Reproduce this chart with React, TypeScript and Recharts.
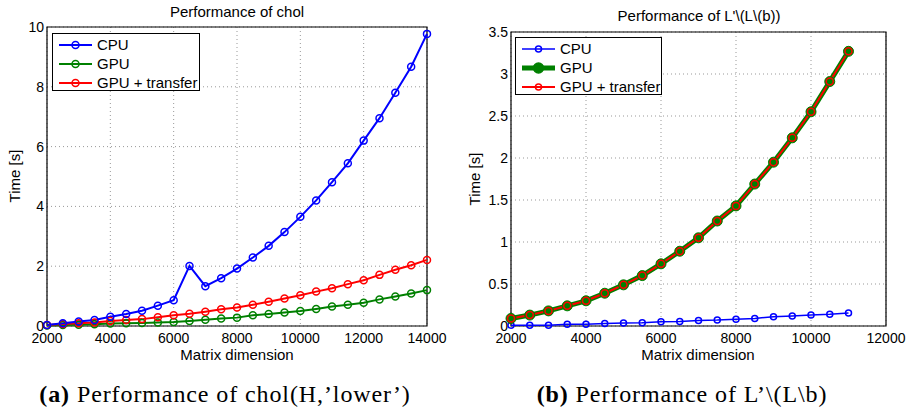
import { LineChart, Line, XAxis, YAxis, CartesianGrid, ReferenceArea } from 'recharts'

// chol(H,'lower') timings
const cholSizes = [2000, 2500, 3000, 3500, 4000, 4500, 5000, 5500, 6000, 6500, 7000, 7500, 8000, 8500, 9000, 9500, 10000, 10500, 11000, 11500, 12000, 12500, 13000, 13500, 14000]
const cholCpu = [0.03, 0.09, 0.15, 0.2, 0.31, 0.4, 0.51, 0.68, 0.86, 2.01, 1.33, 1.6, 1.92, 2.29, 2.68, 3.14, 3.65, 4.2, 4.81, 5.44, 6.2, 6.95, 7.8, 8.67, 9.77]
const cholGpu = [0.02, 0.03, 0.04, 0.06, 0.08, 0.09, 0.1, 0.12, 0.13, 0.17, 0.21, 0.25, 0.28, 0.36, 0.4, 0.45, 0.5, 0.57, 0.65, 0.71, 0.78, 0.89, 0.99, 1.09, 1.2]
const cholGpuTransfer = [0.03, 0.07, 0.09, 0.12, 0.17, 0.2, 0.23, 0.29, 0.36, 0.41, 0.48, 0.56, 0.62, 0.71, 0.81, 0.92, 1.03, 1.15, 1.26, 1.4, 1.53, 1.71, 1.88, 2.03, 2.21]

// L'\(L\b) timings
const solveSizes = [2000, 2500, 3000, 3500, 4000, 4500, 5000, 5500, 6000, 6500, 7000, 7500, 8000, 8500, 9000, 9500, 10000, 10500, 11000]
const solveCpu = [0.01, 0.01, 0.01, 0.02, 0.02, 0.03, 0.035, 0.04, 0.05, 0.055, 0.065, 0.07, 0.08, 0.09, 0.11, 0.12, 0.13, 0.14, 0.155]
const solveGpu = [0.09, 0.13, 0.18, 0.24, 0.3, 0.39, 0.49, 0.6, 0.74, 0.89, 1.05, 1.25, 1.43, 1.69, 1.95, 2.24, 2.55, 2.91, 3.27]
const solveGpuTransfer = [0.09, 0.13, 0.18, 0.24, 0.3, 0.39, 0.49, 0.6, 0.74, 0.89, 1.05, 1.25, 1.43, 1.69, 1.95, 2.24, 2.55, 2.91, 3.27]

const cholXTicks = [2000, 4000, 6000, 8000, 10000, 12000, 14000]
const cholYTicks = [0, 2, 4, 6, 8, 10]
const solveXTicks = [2000, 4000, 6000, 8000, 10000, 12000]
const solveYTicks = [0, 0.5, 1, 1.5, 2, 2.5, 3, 3.5]

const seriesNames = ['CPU', 'GPU', 'GPU + transfer']

const BLUE = '#0000ff'
const GREEN = '#008000'
const RED = '#ff0000'
const SANS = '"Liberation Sans", Arial, Helvetica, sans-serif'
const SERIF = '"Liberation Serif", "Times New Roman", serif'

const cholData = cholSizes.map((n, i) => ({ n, cpu: cholCpu[i], gpu: cholGpu[i], gput: cholGpuTransfer[i] }))
const solveData = solveSizes.map((n, i) => ({ n, cpu: solveCpu[i], gpu: solveGpu[i], gput: solveGpuTransfer[i] }))

const tickStyle = { fill: '#000', fontSize: 14, fontFamily: SANS }

type LegendItem = { label: string; color: string; width: number; r: number; filled: boolean }

function LegendBox({ left, top, width, items }: { left: number; top: number; width: number; items: LegendItem[] }) {
  return (
    <div
      style={{
        position: 'absolute',
        left,
        top,
        width,
        height: 58,
        background: '#fff',
        border: '1.5px solid #000',
        boxSizing: 'border-box',
        fontFamily: SANS,
        fontSize: 15,
      }}
    >
      {items.map((it, i) => (
        <div key={it.label} style={{ position: 'absolute', left: 5, top: 2 + i * 19, height: 18, display: 'flex', alignItems: 'center' }}>
          <svg width={36} height={14}>
            <line x1={1} y1={7} x2={34} y2={7} stroke={it.color} strokeWidth={it.width} />
            <circle cx={17.5} cy={7} r={it.r} stroke={it.color} strokeWidth={1.5} fill={it.filled ? it.color : 'none'} />
          </svg>
          <span style={{ marginLeft: 3, lineHeight: '18px' }}>{it.label}</span>
        </div>
      ))}
    </div>
  )
}

function Txt({ x, y, children, rotate, style }: any) {
  return (
    <div
      style={{
        position: 'absolute',
        left: x,
        top: y,
        transform: `translate(-50%, -50%)${rotate ? ' rotate(-90deg)' : ''}`,
        whiteSpace: 'nowrap',
        fontFamily: SANS,
        fontSize: 15,
        color: '#000',
        ...style,
      }}
    >
      {children}
    </div>
  )
}

const captionStyle = { fontFamily: SERIF, fontSize: 24, letterSpacing: 0.9, lineHeight: '28px' }

export default function App() {
  return (
    <div style={{ position: 'absolute', left: 0, top: 0, width: 909, height: 412, background: '#fff', overflow: 'hidden' }}>
      {/* (a) chol */}
      <div style={{ position: 'absolute', left: 0, top: 0 }}>
        <LineChart width={460} height={345} data={cholData} margin={{ top: 27, right: 33, bottom: 1, left: 17 }}>
          <CartesianGrid stroke="#999" strokeDasharray="1 3" />
          <XAxis
            dataKey="n"
            type="number"
            domain={[2000, 14000]}
            ticks={cholXTicks}
            tick={tickStyle}
            tickLine={false}
            tickSize={0}
            tickMargin={7}
            axisLine={false}
            height={18}
          />
          <YAxis
            type="number"
            domain={[0, 10]}
            ticks={cholYTicks}
            tick={tickStyle}
            tickLine={false}
            tickSize={0}
            tickMargin={3}
            axisLine={false}
            width={30}
          />
          <Line dataKey="gpu" stroke={GREEN} strokeWidth={2} dot={{ r: 3.5, stroke: GREEN, strokeWidth: 1.5, fill: 'none' }} isAnimationActive={false} />
          <Line dataKey="gput" stroke={RED} strokeWidth={2} dot={{ r: 3.5, stroke: RED, strokeWidth: 1.5, fill: 'none' }} isAnimationActive={false} />
          <Line dataKey="cpu" stroke={BLUE} strokeWidth={2} dot={{ r: 3.5, stroke: BLUE, strokeWidth: 1.5, fill: 'none' }} isAnimationActive={false} />
          <ReferenceArea x1={2000} x2={14000} y1={0} y2={10} fill="none" stroke="#000" strokeWidth={1.2} ifOverflow="visible" />
        </LineChart>
      </div>
      <LegendBox
        left={52}
        top={33}
        width={148}
        items={[
          { label: seriesNames[0], color: BLUE, width: 2, r: 3.5, filled: false },
          { label: seriesNames[1], color: GREEN, width: 2, r: 3.5, filled: false },
          { label: seriesNames[2], color: RED, width: 2, r: 3.5, filled: false },
        ]}
      />
      <Txt x={237} y={11}>Performance of chol</Txt>
      <Txt x={14} y={176} rotate>Time [s]</Txt>
      <Txt x={237} y={354}>Matrix dimension</Txt>

      {/* (b) L'\(L\b) */}
      <div style={{ position: 'absolute', left: 455, top: 0 }}>
        <LineChart width={454} height={345} data={solveData} margin={{ top: 32, right: 23, bottom: 1, left: 21 }}>
          <CartesianGrid stroke="#999" strokeDasharray="1 3" />
          <XAxis
            dataKey="n"
            type="number"
            domain={[2000, 12000]}
            ticks={solveXTicks}
            tick={tickStyle}
            tickLine={false}
            tickSize={0}
            tickMargin={7}
            axisLine={false}
            height={18}
          />
          <YAxis
            type="number"
            domain={[0, 3.5]}
            ticks={solveYTicks}
            tick={tickStyle}
            tickLine={false}
            tickSize={0}
            tickMargin={3}
            axisLine={false}
            width={35}
          />
          <Line dataKey="cpu" stroke={BLUE} strokeWidth={1.5} dot={{ r: 3, stroke: BLUE, strokeWidth: 1.5, fill: 'none' }} isAnimationActive={false} />
          <Line dataKey="gpu" stroke={GREEN} strokeWidth={5} dot={{ r: 5, stroke: GREEN, strokeWidth: 1, fill: GREEN }} isAnimationActive={false} />
          <Line dataKey="gput" stroke={RED} strokeWidth={2} dot={{ r: 3.5, stroke: RED, strokeWidth: 1.5, fill: 'none' }} isAnimationActive={false} />
          <ReferenceArea x1={2000} x2={12000} y1={0} y2={3.5} fill="none" stroke="#000" strokeWidth={1.2} ifOverflow="visible" />
        </LineChart>
      </div>
      <LegendBox
        left={515}
        top={37}
        width={147}
        items={[
          { label: seriesNames[0], color: BLUE, width: 1.5, r: 3, filled: false },
          { label: seriesNames[1], color: GREEN, width: 5, r: 5, filled: true },
          { label: seriesNames[2], color: RED, width: 2, r: 3, filled: false },
        ]}
      />
      <Txt x={699} y={15}>Performance of L'\(L\(b))</Txt>
      <Txt x={474} y={179} rotate>Time [s]</Txt>
      <Txt x={698} y={354}>Matrix dimension</Txt>

      {/* captions */}
      <Txt x={225} y={394} style={captionStyle}>
        <b>(a)</b> Performance of chol(H,’lower’)
      </Txt>
      <Txt x={682} y={394} style={captionStyle}>
        <b>(b)</b> Performance of L’\(L\b)
      </Txt>
    </div>
  )
}
